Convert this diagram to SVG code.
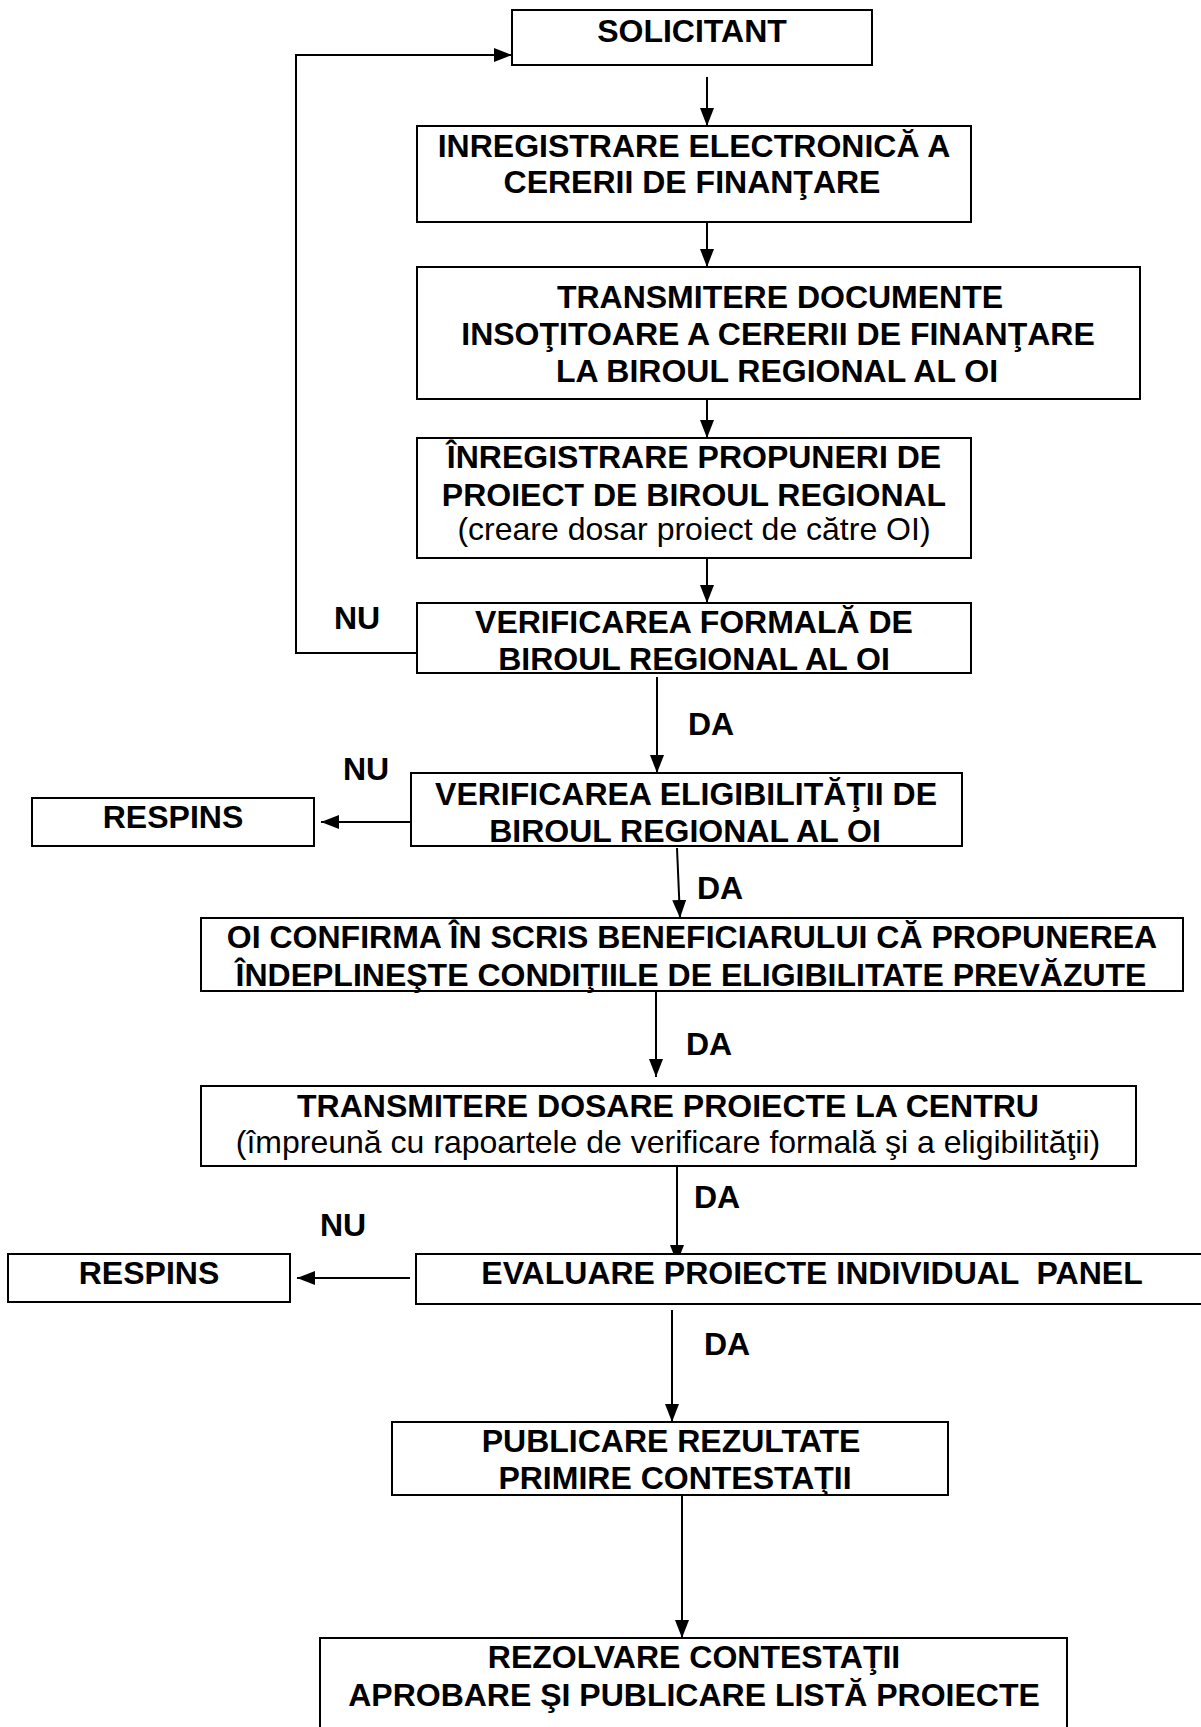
<svg xmlns="http://www.w3.org/2000/svg" width="1201" height="1727" viewBox="0 0 1201 1727">
<style>
  .box { fill: #fff; stroke: #000; stroke-width: 2; }
  .t { font-family: "Liberation Sans", Arial, sans-serif; font-size: 32px; font-weight: bold; fill: #000; text-anchor: middle; }
  .n { font-weight: normal; }
  .lbl { font-family: "Liberation Sans", Arial, sans-serif; font-size: 32px; font-weight: bold; fill: #000; text-anchor: middle; }
  .c { fill: none; stroke: #000; stroke-width: 2; }
  .a { marker-end: url(#ah); }
</style>
<defs>
  <marker id="ah" markerUnits="userSpaceOnUse" markerWidth="19" markerHeight="15" refX="18" refY="7" orient="auto">
    <path d="M0,0 L18,7 L0,14 z" fill="#000"/>
  </marker>
</defs>
<rect width="1201" height="1727" fill="#fff"/>

<g id="connectors">
  <line class="c a" x1="707" y1="77" x2="707" y2="126"/>
  <line class="c a" x1="707" y1="222" x2="707" y2="267"/>
  <line class="c a" x1="707" y1="390" x2="707" y2="438"/>
  <line class="c a" x1="707" y1="558" x2="707" y2="603"/>
  <polyline class="c a" points="417,653 296,653 296,55 512,55"/>
  <line class="c a" x1="657" y1="677" x2="657" y2="773"/>
  <line class="c a" x1="411" y1="822" x2="321" y2="822"/>
  <line class="c a" x1="677" y1="848" x2="680" y2="918"/>
  <line class="c a" x1="656" y1="992" x2="656" y2="1077"/>
  <line class="c a" x1="677" y1="1146" x2="677" y2="1263"/>
  <line class="c a" x1="410" y1="1278" x2="297" y2="1278"/>
  <line class="c a" x1="672" y1="1310" x2="672" y2="1422"/>
  <line class="c a" x1="682" y1="1495" x2="682" y2="1638"/>
</g>

<g id="n-solicitant">
  <rect class="box" x="512" y="10" width="360" height="55"/>
  <text class="t" x="692" y="42">SOLICITANT</text>
</g>
<g id="n-inregistrare-electronica">
  <rect class="box" x="417" y="126" width="554" height="96"/>
  <text class="t" x="694" y="157">INREGISTRARE ELECTRONICĂ A</text>
  <text class="t" x="692" y="193">CERERII DE FINANŢARE</text>
</g>
<g id="n-transmitere-documente">
  <rect class="box" x="417" y="267" width="723" height="132"/>
  <text class="t" x="780" y="308">TRANSMITERE DOCUMENTE</text>
  <text class="t" x="778" y="345">INSOŢITOARE A CERERII DE FINANŢARE</text>
  <text class="t" x="777" y="382">LA BIROUL REGIONAL AL OI</text>
</g>
<g id="n-inregistrare-propuneri">
  <rect class="box" x="417" y="438" width="554" height="120"/>
  <text class="t" x="694" y="468">ÎNREGISTRARE PROPUNERI DE</text>
  <text class="t" x="694" y="506">PROIECT DE BIROUL REGIONAL</text>
  <text class="t n" x="694" y="540">(creare dosar proiect de către OI)</text>
</g>
<g id="n-verificare-formala">
  <rect class="box" x="417" y="603" width="554" height="70"/>
  <text class="t" x="694" y="633">VERIFICAREA FORMALĂ DE</text>
  <text class="t" x="694" y="670">BIROUL REGIONAL AL OI</text>
</g>
<g id="n-verificare-eligibilitate">
  <rect class="box" x="411" y="773" width="551" height="73"/>
  <text class="t" x="686" y="805">VERIFICAREA ELIGIBILITĂŢII DE</text>
  <text class="t" x="685" y="842">BIROUL REGIONAL AL OI</text>
</g>
<g id="n-respins-1">
  <rect class="box" x="32" y="798" width="282" height="48"/>
  <text class="t" x="173" y="828">RESPINS</text>
</g>
<g id="n-oi-confirma">
  <rect class="box" x="201" y="918" width="982" height="73"/>
  <text class="t" x="692" y="948">OI CONFIRMA ÎN SCRIS BENEFICIARULUI CĂ PROPUNEREA</text>
  <text class="t" x="691" y="986">ÎNDEPLINEŞTE CONDIŢIILE DE ELIGIBILITATE PREVĂZUTE</text>
</g>
<g id="n-transmitere-dosare">
  <rect class="box" x="201" y="1086" width="935" height="80"/>
  <text class="t" x="668" y="1117">TRANSMITERE DOSARE PROIECTE LA CENTRU</text>
  <text class="t n" x="668" y="1153">(împreună cu rapoartele de verificare formală şi a eligibilităţii)</text>
</g>
<g id="n-evaluare">
  <rect class="box" x="416" y="1254" width="800" height="50"/>
  <text class="t" x="812" y="1284" xml:space="preserve">EVALUARE PROIECTE INDIVIDUAL  PANEL</text>
</g>
<g id="n-respins-2">
  <rect class="box" x="8" y="1254" width="282" height="48"/>
  <text class="t" x="149" y="1284">RESPINS</text>
</g>
<g id="n-publicare">
  <rect class="box" x="392" y="1422" width="556" height="73"/>
  <text class="t" x="671" y="1452">PUBLICARE REZULTATE</text>
  <text class="t" x="675" y="1489">PRIMIRE CONTESTAŢII</text>
</g>
<g id="n-rezolvare">
  <rect class="box" x="320" y="1638" width="747" height="100"/>
  <text class="t" x="694" y="1668">REZOLVARE CONTESTAŢII</text>
  <text class="t" x="694" y="1706">APROBARE ŞI PUBLICARE LISTĂ PROIECTE</text>
</g>

<g id="labels">
  <text class="lbl" x="357" y="629">NU</text>
  <text class="lbl" x="711" y="735">DA</text>
  <text class="lbl" x="366" y="780">NU</text>
  <text class="lbl" x="720" y="899">DA</text>
  <text class="lbl" x="709" y="1055">DA</text>
  <text class="lbl" x="717" y="1208">DA</text>
  <text class="lbl" x="343" y="1236">NU</text>
  <text class="lbl" x="727" y="1355">DA</text>
</g>
</svg>
